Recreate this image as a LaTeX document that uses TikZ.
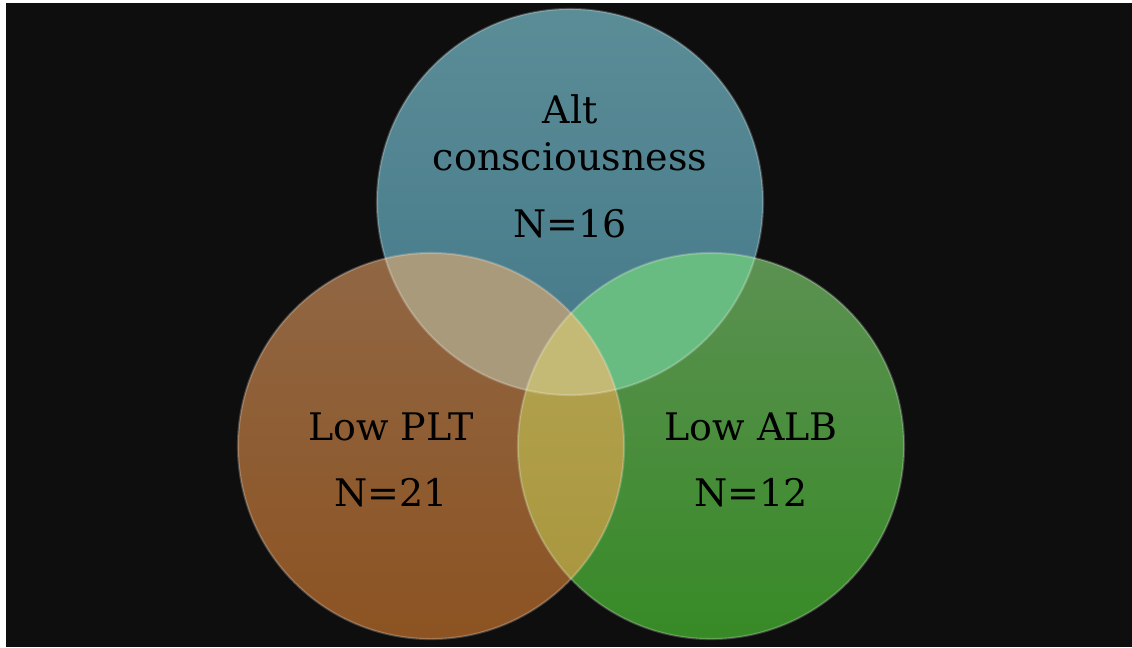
\documentclass[tikz,border=0pt]{standalone}
\usepackage{fontspec}
\setmainfont{DejaVu Serif}
\usepackage{xcolor}
\definecolor{cBack}{HTML}{0E0E0E}
\definecolor{cBlueTop}{HTML}{5B8D97}
\definecolor{cBlueBot}{HTML}{447888}
\definecolor{cOrangeTop}{HTML}{906744}
\definecolor{cOrangeBot}{HTML}{8D5322}
\definecolor{cGreenTop}{HTML}{5C9152}
\definecolor{cGreenBot}{HTML}{378A26}
\definecolor{cBlueOrange}{HTML}{A99A7B}
\definecolor{cBlueGreen}{HTML}{69BC81}
\definecolor{cOrangeGreenTop}{HTML}{B5A553}
\definecolor{cOrangeGreenBot}{HTML}{A8953C}
\definecolor{cAll}{HTML}{C4B975}
\usetikzlibrary{positioning}
\tikzset{
  venn-circle/.style={circle,minimum size=9.65cm,inner sep=0pt},
  venn-rim/.style={draw=white,draw opacity=0.22,line width=1.5pt},
  venn-label/.style={font=\fontsize{27}{32}\selectfont,text=black,anchor=base},
}
\newcommand{\vennr}{4.825cm}

\begin{document}
\begin{tikzpicture}[x=0.025cm,y=-0.025cm]
  \useasboundingbox (0,0) rectangle (1132,647);
  \fill[white] (0,0) rectangle (1132,647);
  \fill[cBack] (6,3) rectangle (1132,647);

  % the three sets
  \node[venn-circle,top color=cBlueTop,bottom color=cBlueBot] (alt) at (570,202) {};
  \node[venn-circle,top color=cOrangeTop,bottom color=cOrangeBot] (plt) at (431,446) {};
  \node[venn-circle,top color=cGreenTop,bottom color=cGreenBot] (alb) at (711,446) {};

  % pairwise overlaps
  \begin{scope}
    \clip (alt.center) circle[radius=\vennr];
    \fill[cBlueOrange] (plt.center) circle[radius=\vennr];
    \fill[cBlueGreen] (alb.center) circle[radius=\vennr];
  \end{scope}
  \begin{scope}
    \clip (plt.center) circle[radius=\vennr];
    \shade[top color=cOrangeGreenTop,bottom color=cOrangeGreenBot]
      (alb.center) circle[radius=\vennr];
    \clip (alb.center) circle[radius=\vennr];
    \fill[cAll] (alt.center) circle[radius=\vennr];
  \end{scope}

  % glossy rims
  \draw[venn-rim] (alt.center) circle[radius=\vennr];
  \draw[venn-rim] (plt.center) circle[radius=\vennr];
  \draw[venn-rim] (alb.center) circle[radius=\vennr];

  % labels
  \node[venn-label] (alt-l1) at (570,123) {Alt};
  \node[venn-label] (alt-l2) at (570,170) {consciousness};
  \node[venn-label] (alt-n) at (570,237) {N=16};
  \node[venn-label] (plt-l1) at (391,440) {Low PLT};
  \node[venn-label] (plt-n) at (391,506) {N=21};
  \node[venn-label] (alb-l1) at (751,440) {Low ALB};
  \node[venn-label] (alb-n) at (751,506) {N=12};
\end{tikzpicture}
\end{document}
